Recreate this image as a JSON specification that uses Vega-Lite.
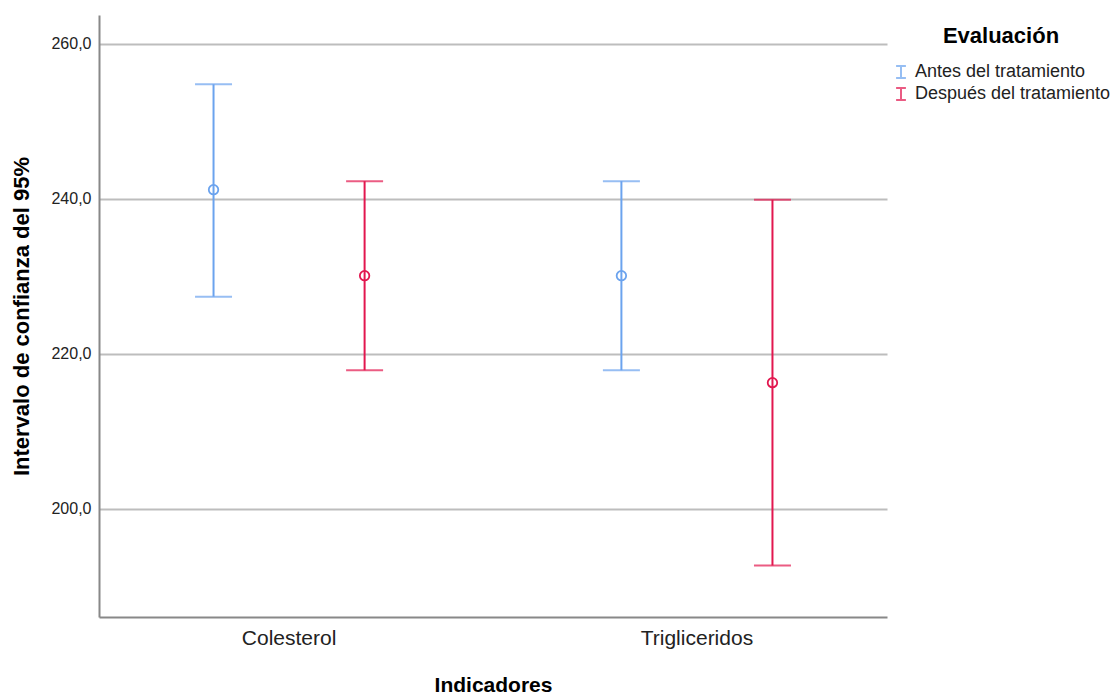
{
  "$schema": "https://vega.github.io/schema/vega-lite/v6.json",
  "autosize": "none",
  "width": 788,
  "height": 602,
  "padding": {"left": 99, "top": 15, "right": 227, "bottom": 78},
  "background": "white",
  "config": {
    "font": "Liberation Sans",
    "view": {"stroke": null}
  },
  "data": {
    "values": [
      {"indicador": "Colesterol", "evaluacion": "Antes del tratamiento", "media": 241.2, "inferior": 227.4, "superior": 254.8},
      {"indicador": "Colesterol", "evaluacion": "Después del tratamiento", "media": 230.1, "inferior": 217.9, "superior": 242.3},
      {"indicador": "Trigliceridos", "evaluacion": "Antes del tratamiento", "media": 230.1, "inferior": 217.9, "superior": 242.3},
      {"indicador": "Trigliceridos", "evaluacion": "Después del tratamiento", "media": 216.3, "inferior": 192.7, "superior": 239.9}
    ]
  },
  "encoding": {
    "x": {
      "field": "indicador", "type": "nominal", "sort": null,
      "scale": {"paddingInner": 0.2, "paddingOuter": 0.066},
      "axis": {
        "title": "Indicadores", "labelAngle": 0, "ticks": false, "grid": false,
        "domainColor": "#888888", "domainWidth": 2,
        "labelFontSize": 21, "labelColor": "#222222", "labelPadding": 10,
        "titleFontSize": 21, "titleFontWeight": "bold", "titleColor": "#000000", "titlePadding": 26
      }
    },
    "xOffset": {
      "field": "evaluacion", "type": "nominal",
      "scale": {"paddingInner": 0, "paddingOuter": 0.08}
    },
    "color": {
      "field": "evaluacion", "type": "nominal",
      "scale": {"range": ["#6ba3ee", "#e2174f"]},
      "legend": {
        "title": "Evaluación", "orient": "none", "legendX": 793, "legendY": 11, "padding": 0,
        "titleFontSize": 22, "titleFontWeight": "bold", "titleColor": "#000000",
        "titleAnchor": "middle", "titlePadding": 15,
        "labelFontSize": 18, "labelColor": "#222222", "labelOffset": 5, "labelLimit": 400,
        "symbolType": "M-0.8,-1H0.8M0,-1V1M-0.8,1H0.8",
        "symbolSize": 150, "symbolStrokeWidth": 2, "symbolFillColor": "transparent",
        "rowPadding": 0
      }
    }
  },
  "layer": [
    {
      "mark": {"type": "rule", "strokeWidth": 2},
      "encoding": {
        "y": {
          "field": "inferior", "type": "quantitative",
          "scale": {"domain": [186.06, 263.74], "nice": false, "zero": false},
          "axis": {
            "title": "Intervalo de confianza del 95%", "values": [200, 220, 240, 260],
            "labelExpr": "replace(format(datum.value, '.1f'), '.', ',')",
            "ticks": false, "grid": true, "gridColor": "#bdbdbd", "gridWidth": 2,
            "domainColor": "#888888", "domainWidth": 2,
            "labelFontSize": 16, "labelColor": "#222222", "labelPadding": 8,
            "titleFontSize": 22, "titleFontWeight": "bold", "titleColor": "#000000", "titlePadding": 17
          }
        },
        "y2": {"field": "superior"}
      }
    },
    {
      "mark": {"type": "tick", "size": 37, "thickness": 2},
      "encoding": {"y": {"field": "inferior", "type": "quantitative"}}
    },
    {
      "mark": {"type": "tick", "size": 37, "thickness": 2},
      "encoding": {"y": {"field": "superior", "type": "quantitative"}}
    },
    {
      "mark": {"type": "point", "shape": "circle", "filled": false, "size": 90, "strokeWidth": 1.8, "opacity": 1},
      "encoding": {"y": {"field": "media", "type": "quantitative"}}
    }
  ]
}
